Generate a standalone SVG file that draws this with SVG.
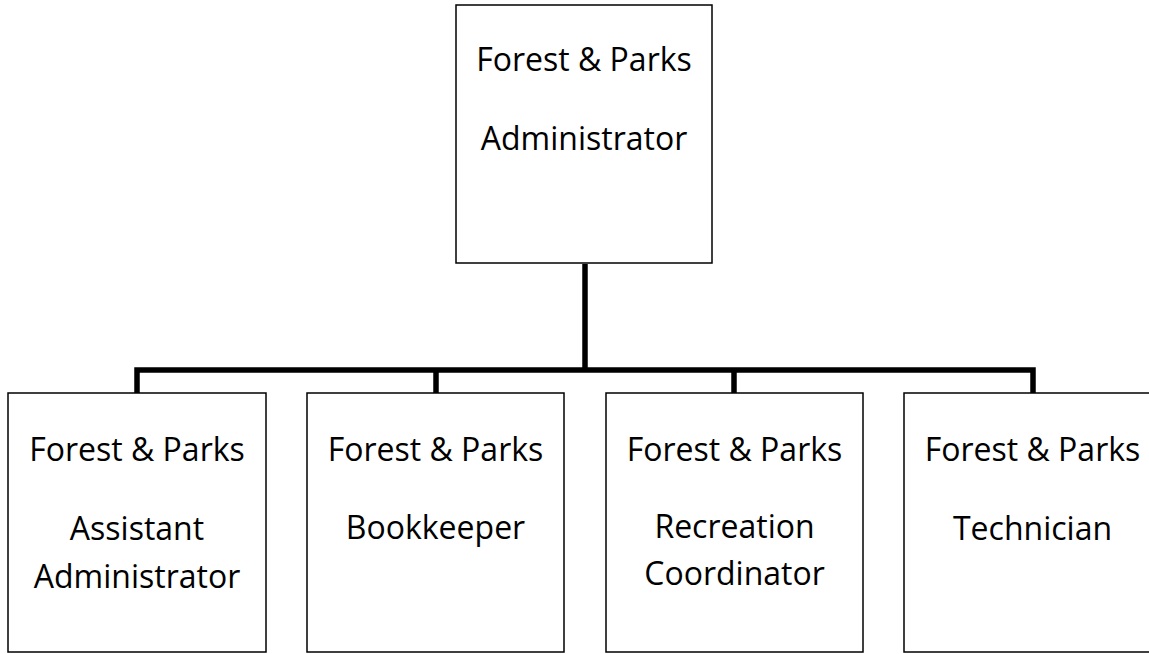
<svg xmlns="http://www.w3.org/2000/svg" width="1149" height="654" viewBox="0 0 1149 654">
<style>
.box{fill:#fff;stroke:#000;stroke-width:1.5}
.t{font-family:"Open Sans",Lato,"Liberation Sans",sans-serif;font-size:32px;fill:#000;text-anchor:middle}
.c{fill:none;stroke:#000;stroke-width:5.5}
</style>
<rect width="1149" height="654" fill="#fff"/>
<g id="connectors">
<path class="c" d="M585 264V370"/>
<path class="c" d="M137 393V370H1033V393"/>
<path class="c" d="M436 370V393"/>
<path class="c" d="M734 370V393"/>
</g>
<g id="admin">
<rect class="box" x="456" y="5" width="256" height="258"/>
<text class="t" x="584" y="71">Forest &amp; Parks</text>
<text class="t" x="584" y="150">Administrator</text>
</g>
<g id="assistant">
<rect class="box" x="8" y="393" width="258" height="259"/>
<text class="t" x="137" y="461">Forest &amp; Parks</text>
<text class="t" x="137" y="540">Assistant</text>
<text class="t" x="137" y="588">Administrator</text>
</g>
<g id="bookkeeper">
<rect class="box" x="307" y="393" width="257" height="259"/>
<text class="t" x="435.5" y="461">Forest &amp; Parks</text>
<text class="t" x="435.5" y="539">Bookkeeper</text>
</g>
<g id="recreation">
<rect class="box" x="606" y="393" width="257" height="259"/>
<text class="t" x="734.5" y="461">Forest &amp; Parks</text>
<text class="t" x="734.5" y="538">Recreation</text>
<text class="t" x="734.5" y="585">Coordinator</text>
</g>
<g id="technician">
<rect class="box" x="904" y="393" width="257" height="259"/>
<text class="t" x="1032.5" y="461">Forest &amp; Parks</text>
<text class="t" x="1032.5" y="540">Technician</text>
</g>
</svg>
